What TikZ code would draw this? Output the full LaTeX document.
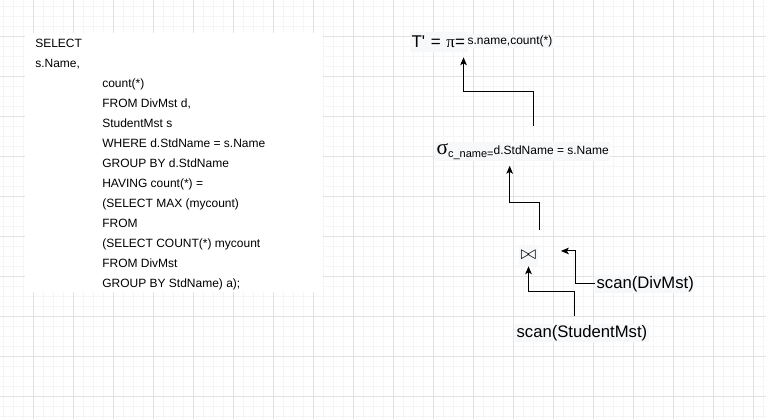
\documentclass[tikz,border=0pt]{standalone}
\usepackage{fontspec}
\setmainfont{Liberation Sans}[Ligatures=TeXOff]
\newfontfamily\serifgreek{Liberation Serif}
\usepackage{tikz}
\usetikzlibrary{positioning}
\usetikzlibrary{arrows.meta}
\definecolor{gridMajor}{HTML}{E2E2E2}
\definecolor{gridMinor}{HTML}{F5F5F5}
\definecolor{labelBg}{HTML}{F7F8FA}
\tikzset{
  gridminor/.style={draw=gridMinor,line width=0.75pt},
  gridmajor/.style={draw=gridMajor,line width=0.75pt},
  sqlline/.style={anchor=base west,inner sep=0pt,
                  font=\fontsize{9}{10}\selectfont},
  oplabel/.style={fill=labelBg,inner sep=1pt,
                  font=\fontsize{9}{10}\selectfont},
  scanlabel/.style={fill=labelBg,inner sep=1pt,anchor=base west,
                    font=\fontsize{12.5}{14}\selectfont},
  flow/.style={-{Stealth[length=6pt,width=5pt,inset=1.5pt]},line width=0.75pt},
}

\begin{document}
\begin{tikzpicture}[x=0.75pt,y=-0.75pt]
  \useasboundingbox (0,0) rectangle (766,419);

  % grid
  \foreach \x in {3,13,...,763} \draw[gridminor] (\x,0) -- (\x,419);
  \foreach \y in {6,16,...,416} \draw[gridminor] (0,\y) -- (766,\y);
  \foreach \x in {33,73,...,753} \draw[gridmajor] (\x,0) -- (\x,419);
  \foreach \y in {36,76,...,396} \draw[gridmajor] (0,\y) -- (766,\y);

  % the query
  \fill[white] (25,33) rectangle (323,292);
  \node[sqlline] (sqlSelect) at (35,47) {SELECT};
  \node[sqlline] (sqlName) at (35,67) {s.Name,};
  \foreach \txt [count=\i] in {{count(*)},{FROM DivMst d,},{StudentMst s},
      {WHERE d.StdName = s.Name},{GROUP BY d.StdName},{HAVING count(*) =},
      {(SELECT MAX (mycount)},{FROM},{(SELECT COUNT(*) mycount},
      {FROM DivMst},{GROUP BY StdName) a);}} {
    \node[sqlline] (sqlLine\i) at (102,67+20*\i) {\txt};
  }

  % the plan
  \node[oplabel,anchor=west,text width=41.5pt,inner ysep=1.5pt,
        text height=10pt,text depth=2pt,
        font=\fontsize{12.75}{13}\selectfont]
      (tPrime) at (410,42) {T' = {\serifgreek π}=};
  \node[oplabel,anchor=base west] (piArgs) at (466,44) {s.name,count(*)};

  \node[oplabel,anchor=base west] (sigmaLabel) at (435,154)
      {{\serifgreek\fontsize{16}{17}\selectfont σ}%
       \raisebox{-2.25pt}{\fontsize{8.25}{9}\selectfont c\_name=}%
       d.StdName = s.Name};

  \node[oplabel,minimum width=12.75pt,minimum height=15.75pt,
        font=\fontsize{13.5}{14}\selectfont]
      (join) at (528.5,255.5) {$\bowtie$};

  \node[scanlabel] (scanDiv) at (595,288) {scan(DivMst)};
  \node[scanlabel] (scanStu) at (515,337) {scan(StudentMst)};

  \coordinate (sigmaOut) at (533,126);
  \coordinate (joinOut) at (539,230);

  \draw[flow] (sigmaOut) -- ++(0,-35)
      -| ([xshift=-3.75pt,yshift=-3.75pt]tPrime.south east);
  \draw[flow] (joinOut) -- ++(0,-28)
      -| ([xshift=-9.75pt,yshift=-3.75pt]sigmaLabel.south);
  \draw[flow] (scanDiv.west) -- ++(-20,0)
      |- ([xshift=17.25pt,yshift=3.4pt]join.east);
  \draw[flow] ([xshift=-5.6pt,yshift=5.25pt]scanStu.north) -- ++(0,-25)
      -| (join.south);
\end{tikzpicture}
\end{document}
